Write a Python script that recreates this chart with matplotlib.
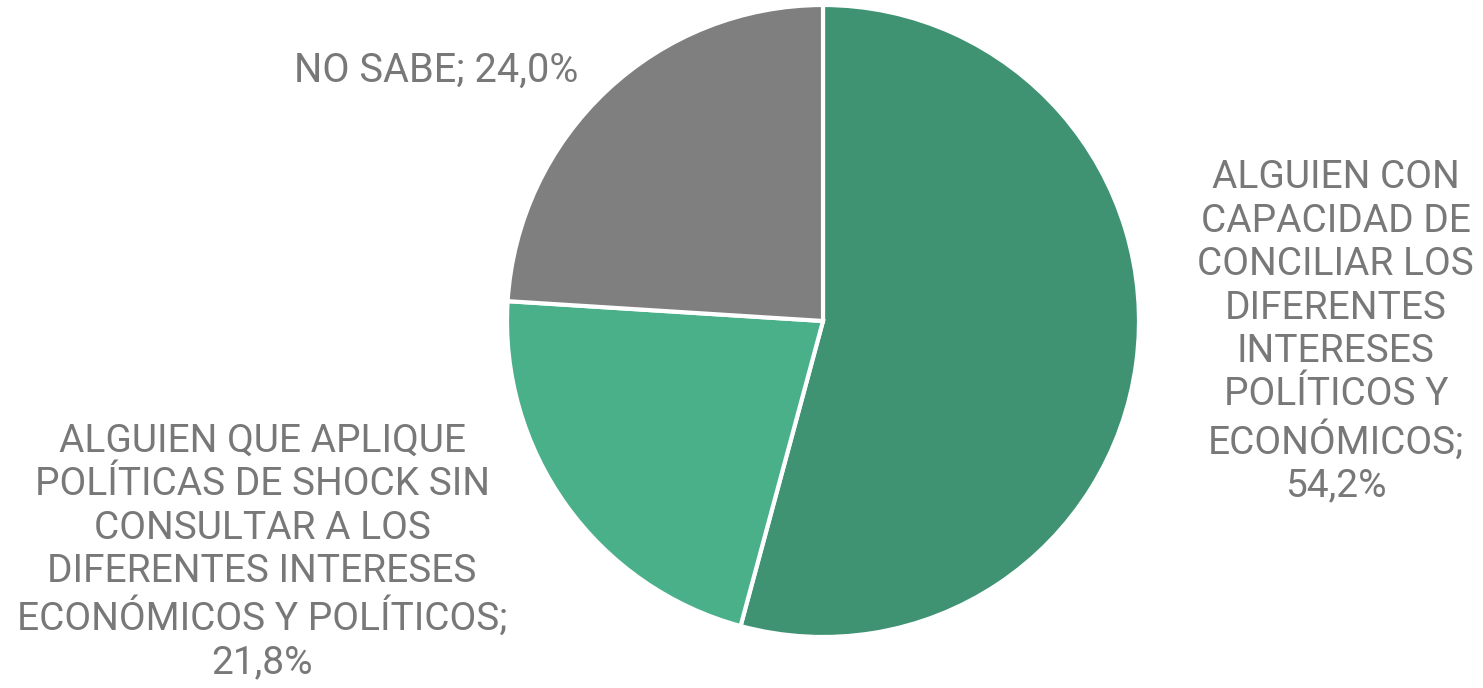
import matplotlib
matplotlib.use("Agg")
import matplotlib.pyplot as plt

# datos del gráfico
categorias = [
    "ALGUIEN CON\nCAPACIDAD DE\nCONCILIAR LOS\nDIFERENTES\nINTERESES\nPOLÍTICOS Y\nECONÓMICOS",
    "ALGUIEN QUE APLIQUE\nPOLÍTICAS DE SHOCK SIN\nCONSULTAR A LOS\nDIFERENTES INTERESES\nECONÓMICOS Y POLÍTICOS",
    "NO SABE",
]
valores = [54.2, 21.8, 24.0]
colores = ["#3F9373", "#4AB08A", "#7F7F7F"]

plt.rcParams["font.family"] = ["Roboto", "DejaVu Sans"]

fig = plt.figure(figsize=(14.83, 6.88), dpi=100)
# centro del pastel ~ (823, 321) px, radio ~316 px
W, H = 1483, 688
cx, cy, r = 823, 321, 316
ax = fig.add_axes([(cx - r) / W, (H - cy - r) / H, 2 * r / W, 2 * r / H])

ax.pie(valores, colors=colores, startangle=90, counterclock=False,
       radius=1, wedgeprops=dict(edgecolor="white", linewidth=3))
ax.set_xlim(-1, 1)
ax.set_ylim(-1, 1)
ax.set_aspect("equal")
ax.axis("off")

# posiciones de las etiquetas (en unidades del radio)
pos_etiquetas = [(1.623, -0.035), (-1.775, -0.731), (-1.225, 0.794)]
for cat, val, (x, y) in zip(categorias, valores, pos_etiquetas):
    if cat == "NO SABE":
        txt = f"{cat}; {val:.1f}%".replace(".", ",")
        tam = 28.5
    else:
        txt = f"{cat};\n{val:.1f}%".replace(".", ",")
        tam = 28
    ax.text(x, y, txt, ha="center", va="center", multialignment="center",
            fontsize=tam, color="#787878", linespacing=1.22, clip_on=False)

fig.savefig("out.png", dpi=100)
